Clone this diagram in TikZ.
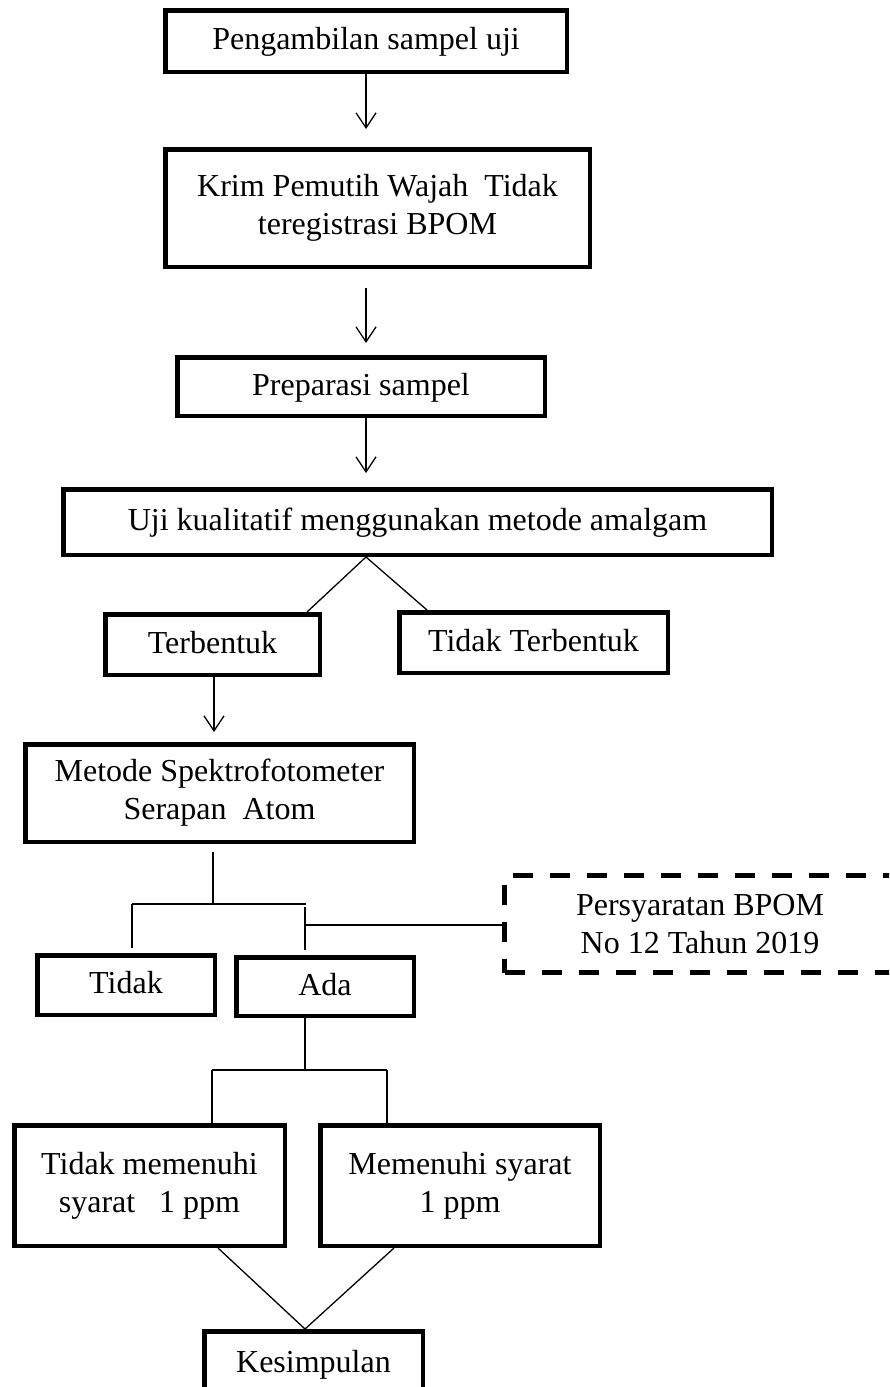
\documentclass[tikz,border=0pt]{standalone}
\usepackage{fontspec}
\setmainfont{Liberation Serif}
\usetikzlibrary{arrows.meta}
\begin{document}
\begin{tikzpicture}[x=1pt,y=-1pt,
  every node/.style={font=\fontsize{32}{38}\selectfont, align=center, inner sep=0pt},
  box/.style={draw, line width=4.5pt},
  one/.style={text height=23pt, text depth=6pt},
  dbox/.style={draw, line width=5pt, dash pattern=on 20pt off 17pt},
  conn/.style={line width=1.3pt},
  arr/.style={line width=1.3pt, -{Straight Barb[length=15pt,width=20pt]}}]
\useasboundingbox (0,0) rectangle (889,1387);
\clip (0,0) rectangle (889,1387);
\fill[white] (0,0) rectangle (889,1387);

\node[box, one, minimum width=401.5pt, minimum height=61.5pt] (b1) at (366,41) {Pengambilan sampel uji};
\node[box, minimum width=424.5pt, minimum height=117.5pt] (b2) at (377.5,208) {Krim Pemutih Wajah\ \ Tidak\\teregistrasi BPOM};
\node[box, one, minimum width=367.5pt, minimum height=58.5pt] (prep) at (361,386.5) {Preparasi sampel};
\node[box, one, minimum width=708.5pt, minimum height=65.5pt] (uji) at (417.5,522) {Uji kualitatif menggunakan metode amalgam};
\node[box, one, minimum width=214.5pt, minimum height=60.5pt] (terb) at (212.5,644.5) {Terbentuk};
\node[box, one, minimum width=268.5pt, minimum height=60.5pt] (tterb) at (533.5,642.5) {Tidak Terbentuk};
\node[box, minimum width=388.5pt, minimum height=97.5pt] (met) at (219.5,793) {Metode Spektrofotometer\\Serapan\ \ Atom};
\node[dbox, minimum width=391pt, minimum height=97pt] (bpom) at (700,924) {Persyaratan BPOM\\No 12 Tahun 2019};
\node[box, one, minimum width=177.5pt, minimum height=59.5pt] (tidak) at (126,985) {Tidak};
\node[box, one, minimum width=177.5pt, minimum height=58.5pt] (ada) at (325,986.5) {Ada};
\node[box, minimum width=270.5pt, minimum height=120.5pt] (tm) at (149.5,1185.5) {Tidak memenuhi\\syarat\ \ \ 1 ppm};
\node[box, minimum width=279.5pt, minimum height=120.5pt] (ms) at (460,1185.5) {Memenuhi syarat\\1 ppm};
\node[box, one, minimum width=218.5pt, minimum height=65.5pt] (kes) at (313.5,1364) {Kesimpulan};

% arrows
\coordinate (a1s) at (366,74);   \coordinate (a1e) at (366,129);
\coordinate (a2s) at (366,288);  \coordinate (a2e) at (366,343);
\coordinate (a3s) at (366,418);  \coordinate (a3e) at (366,473);
\coordinate (a4s) at (214,677);  \coordinate (a4e) at (214,732);
\draw[arr] (a1s) -- (a1e);
\draw[arr] (a2s) -- (a2e);
\draw[arr] (a3s) -- (a3e);
\draw[arr] (a4s) -- (a4e);

% uji split
\coordinate (apex) at (366,557);
\coordinate (tl) at (307,612);
\coordinate (tr) at (427,610);
\draw[conn] (tl) -- (apex) -- (tr);

% metode branch
\coordinate (m0) at (213,852);
\coordinate (m1) at (213,904);
\coordinate (ml) at (132,904);
\coordinate (mr) at (306,904);
\coordinate (mlb) at (132,948);
\coordinate (mrt) at (305,907);
\coordinate (mrb) at (305,950);
\coordinate (mj) at (305,925);
\draw[conn] (m0) -- (m1);
\draw[conn] (ml) -- (mr);
\draw[conn] (ml) -- (mlb);
\draw[conn] (mrt) -- (mrb);
\draw[conn] (mj) -- (mj -| bpom.west);

% ada branch
\coordinate (d0) at (305,1018);
\coordinate (d1) at (305,1070);
\coordinate (dl) at (212,1070);
\coordinate (dr) at (387,1070);
\coordinate (dlb) at (212,1123);
\coordinate (drb) at (387,1123);
\draw[conn] (d0) -- (d1);
\draw[conn] (dl) -- (dr);
\draw[conn] (dl) -- (dlb);
\draw[conn] (dr) -- (drb);

% to kesimpulan
\coordinate (k0) at (305,1329);
\coordinate (kl) at (218,1248);
\coordinate (kr) at (394,1248);
\draw[conn] (kl) -- (k0) -- (kr);
\end{tikzpicture}
\end{document}
